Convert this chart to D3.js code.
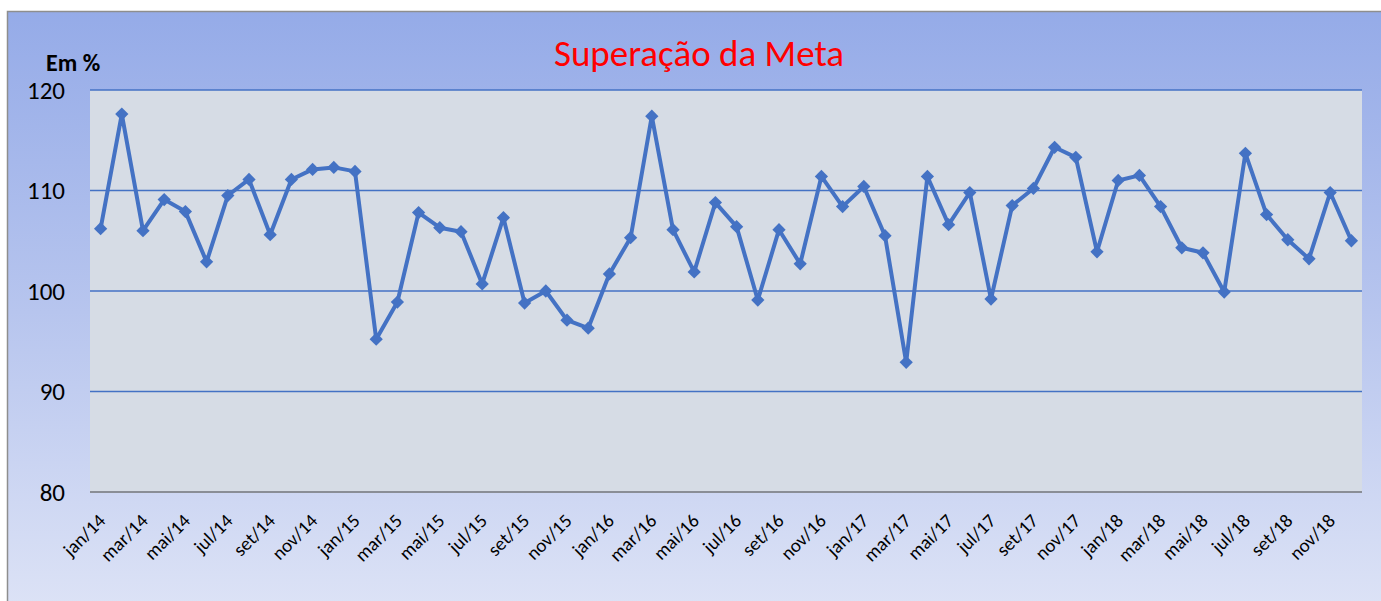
<!DOCTYPE html>
<html lang="pt">
<head>
<meta charset="utf-8">
<title>Superação da Meta</title>
<script src="https://d3js.org/d3.v7.min.js"></script>
<style>
  body { margin: 0; background: #fff; }
  svg { display: block; }
  text { font-family: Carlito, Calibri, Lato, sans-serif; }
</style>
</head>
<body>
<script>
// month names (pt-BR) and years
var monthNames = ["jan", "fev", "mar", "abr", "mai", "jun", "jul", "ago", "set", "out", "nov", "dez"];
var years = ["14", "15", "16", "17", "18"];

// Superação da meta, em %
var values = [
  106.2, 117.6, 106.0, 109.1, 107.9, 102.9, 109.5, 111.1, 105.6, 111.1, 112.1, 112.3,
  111.9, 95.2, 98.9, 107.8, 106.3, 105.9, 100.7, 107.3, 98.8, 100.0, 97.1, 96.3,
  101.7, 105.3, 117.4, 106.1, 101.9, 108.8, 106.4, 99.1, 106.1, 102.7, 111.4, 108.4,
  110.4, 105.5, 92.9, 111.4, 106.6, 109.8, 99.2, 108.5, 110.2, 114.3, 113.3, 103.9,
  111.0, 111.5, 108.4, 104.3, 103.8, 99.9, 113.7, 107.6, 105.1, 103.2, 109.8, 105.0
];

var yTicks = [80, 90, 100, 110, 120];

var categories = [];
years.forEach(function(y) {
  monthNames.forEach(function(m) { categories.push(m + "/" + y); });
});
var dataset = categories.map(function(c, i) { return { cat: c, value: values[i] }; });
// only every other month gets a label
var xLabels = categories.filter(function(c, i) { return i % 2 === 0; });

var w = 1381, h = 601;
var plotLeft = 90, plotRight = 1362, plotTop = 90, plotBottom = 492;

var svg = d3.select("body").append("svg")
  .attr("width", w)
  .attr("height", h);

var defs = svg.append("defs");
var grad = defs.append("linearGradient")
  .attr("id", "bg")
  .attr("x1", 0).attr("y1", 0).attr("x2", 0).attr("y2", 1);
grad.append("stop").attr("offset", "0%").attr("stop-color", "#95abe8");
grad.append("stop").attr("offset", "50%").attr("stop-color", "#b7c5ee");
grad.append("stop").attr("offset", "100%").attr("stop-color", "#dde3f6");

// chart frame
svg.append("rect")
  .attr("x", 7.5).attr("y", 11.5)
  .attr("width", w).attr("height", h)
  .attr("fill", "url(#bg)")
  .attr("stroke", "#8e8e8e")
  .attr("stroke-width", 1.5);

var xScale = d3.scaleBand()
  .domain(categories)
  .range([plotLeft, plotRight])
  .padding(0);

var yScale = d3.scaleLinear()
  .domain([80, 120])
  .range([plotBottom, plotTop]);

function cx(d) { return xScale(d) + xScale.bandwidth() / 2; }

// plot area
svg.append("rect")
  .attr("x", plotLeft).attr("y", plotTop)
  .attr("width", plotRight - plotLeft).attr("height", plotBottom - plotTop)
  .attr("fill", "#d6dce5");

// gridlines
svg.append("g")
  .selectAll("line")
  .data(yTicks.filter(function(t) { return t > 80; }))
  .enter()
  .append("line")
  .attr("x1", plotLeft).attr("x2", plotRight)
  .attr("y1", function(d) { return yScale(d); })
  .attr("y2", function(d) { return yScale(d); })
  .attr("stroke", "#4472c4")
  .attr("stroke-width", 1.3);

// y axis labels
var yAxis = d3.axisLeft(yScale)
  .tickValues(yTicks)
  .tickSize(0)
  .tickPadding(0);
var gy = svg.append("g")
  .attr("transform", "translate(" + 65 + ",0)")
  .call(yAxis);
gy.select(".domain").remove();
gy.selectAll("text")
  .attr("font-size", "25px")
  .attr("fill", "#000")
  .style("font-family", "Carlito, Calibri, Lato, sans-serif");

// x axis
var xAxis = d3.axisBottom(xScale)
  .tickValues(xLabels)
  .tickSize(0)
  .tickPadding(0);
var gx = svg.append("g")
  .attr("transform", "translate(0," + plotBottom + ")")
  .call(xAxis);
gx.select(".domain")
  .attr("stroke", "#8a8e96")
  .attr("stroke-width", 2)
  .attr("d", "M" + plotLeft + ",0H" + plotRight);
gx.selectAll("text")
  .attr("font-size", "19px")
  .attr("fill", "#000")
  .attr("text-anchor", "end")
  .attr("dy", 0)
  .attr("y", 0)
  .attr("transform", "translate(6,30) rotate(-45)")
  .style("font-family", "Carlito, Calibri, Lato, sans-serif");

// line
var line = d3.line()
  .x(function(d) { return cx(d.cat); })
  .y(function(d) { return yScale(d.value); });

svg.append("path")
  .datum(dataset)
  .attr("d", line)
  .attr("fill", "none")
  .attr("stroke", "#4472c4")
  .attr("stroke-width", 4)
  .attr("stroke-linejoin", "round");

// diamond markers
var diamond = d3.symbol().type(d3.symbolSquare).size(88);
svg.append("g")
  .selectAll("path")
  .data(dataset)
  .enter()
  .append("path")
  .attr("d", diamond)
  .attr("transform", function(d) {
    return "translate(" + cx(d.cat) + "," + yScale(d.value) + ") rotate(45)";
  })
  .attr("fill", "#4472c4");

// title
svg.append("text")
  .attr("x", 699)
  .attr("y", 66)
  .attr("text-anchor", "middle")
  .attr("font-size", "37px")
  .attr("fill", "#ff0000")
  .text("Superação da Meta");

// unit label
svg.append("text")
  .attr("x", 46)
  .attr("y", 71)
  .attr("font-size", "24px")
  .attr("font-weight", "bold")
  .attr("fill", "#000")
  .text("Em %");
</script>
</body>
</html>
